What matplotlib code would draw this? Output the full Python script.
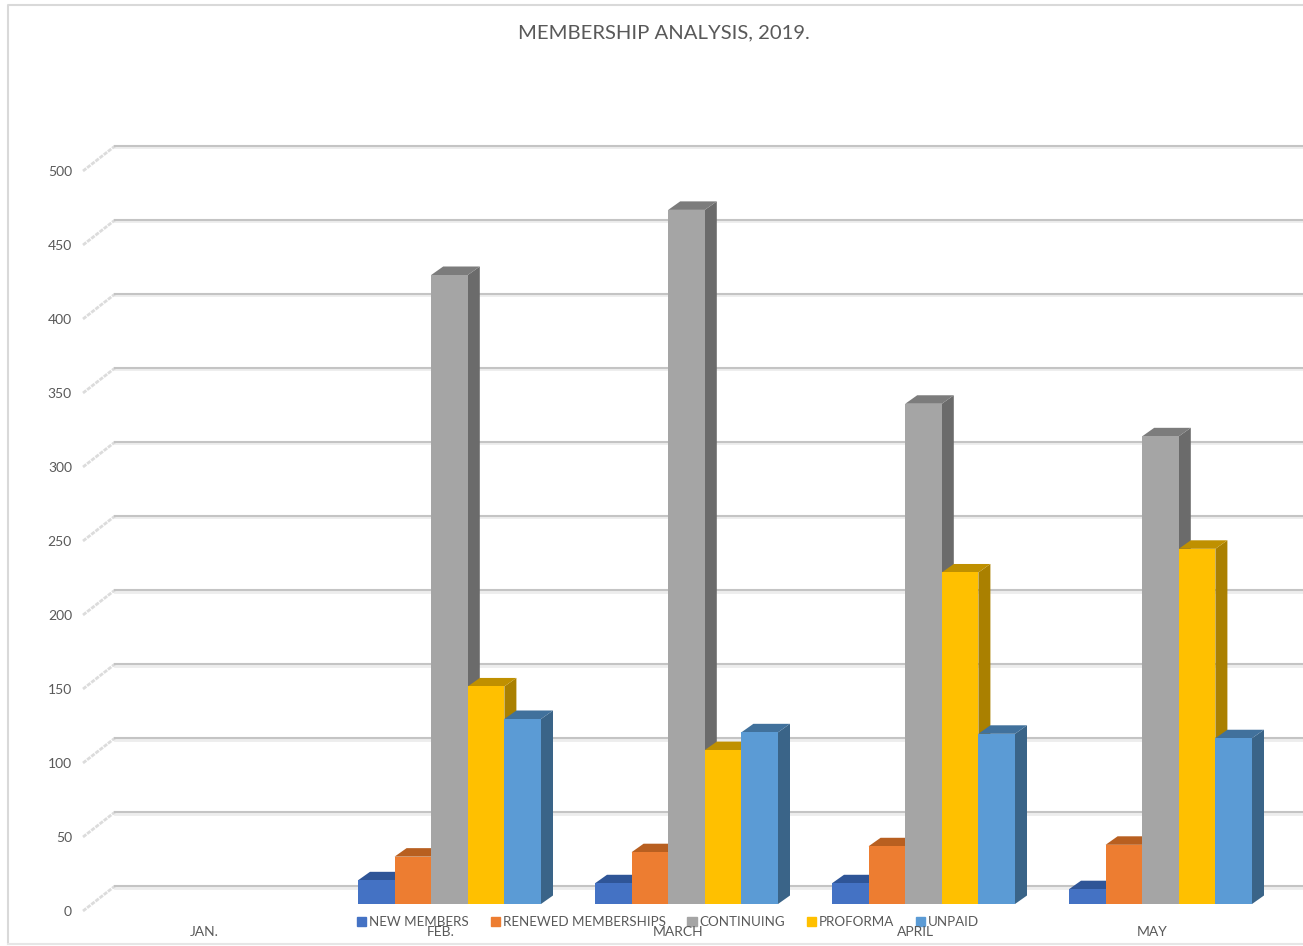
#!/usr/bin/env python

import numpy as np
import matplotlib
matplotlib.use('Agg')
import matplotlib.pyplot as plt
from matplotlib.patches import Patch

plt.rc('font', family=['Lato', 'DejaVu Sans'])

months = ['JAN.', 'FEB.', 'MARCH', 'APRIL', 'MAY']
new_members = [0, 16, 14, 14, 10]
renewed = [0, 32, 35, 39, 40]
continuing = [0, 425, 469, 338, 316]
proforma = [0, 147, 104, 224, 240]
unpaid = [0, 125, 116, 115, 112]
yticks = [0, 50, 100, 150, 200, 250, 300, 350, 400, 450, 500]

names = ['NEW MEMBERS', 'RENEWED MEMBERSHIPS', 'CONTINUING', 'PROFORMA', 'UNPAID']
series = [new_members, renewed, continuing, proforma, unpaid]
front = ['#4472C4', '#ED7D31', '#A5A5A5', '#FFC000', '#5B9BD5']
top = ['#2F5597', '#B85F20', '#7C7C7C', '#BF9000', '#41719C']
side = ['#335593', '#A85A22', '#6B6B6B', '#AA8000', '#3A6488']

# scale of the picture: one category = 237 px, one unit = 1.48 px
PX_X = 237.0
PX_Y = 1.48
X0 = 212.5
Y0 = 904.0

fig = plt.figure(figsize=(13.03, 9.46), dpi=100)
ax = fig.add_axes([0, 0, 1, 1])
ax.set_xlim(-X0 / PX_X, (1303 - X0) / PX_X)
ax.set_ylim((Y0 - 946) / PX_Y, Y0 / PX_Y)
ax.axis('off')


def dx(px):
    return px / PX_X


def dy(px):
    return px / PX_Y


x_left = ax.get_xlim()[0]
x_right = ax.get_xlim()[1]
y_low = ax.get_ylim()[0]
y_high = ax.get_ylim()[1]

# chart border
ax.plot([x_left + dx(8), x_left + dx(8), x_right], [y_low + dy(2), y_high - dy(5.5), y_high - dy(5.5)],
        color='#d9d9d9', lw=1.5, zorder=1)
ax.plot([x_left + dx(8), x_right], [y_low + dy(2), y_low + dy(2)], color='#e6e6e6', lw=1.5, zorder=1)

# back wall grid and the slanted side wall lines
for v in yticks:
    back = v + dy(18)
    ax.plot([x_left + dx(115), x_right], [back - dy(1.5), back - dy(1.5)], color='#ededed', lw=2, zorder=1)
    ax.plot([x_left + dx(115), x_right], [back, back], color='#c4c4c4', lw=1.5, zorder=1.1)
    ax.plot([x_left + dx(83), x_left + dx(115)], [v - dy(7), back], color='#dcdcdc', lw=2,
            linestyle=(0, (1.5, 0.4)), zorder=1)
    ax.text(x_left + dx(72), v - dy(8), str(v), ha='right', va='center', fontsize=10, color='#595959')

width = 36.6 / PX_X
depth_x = dx(12)
depth_y = dy(8.5)

for i in range(len(months)):
    for j in range(len(series)):
        h = series[j][i]
        if h == 0:
            continue
        left = i + (j - 2.5) * width
        right = left + width
        ax.fill([right, right + depth_x, right + depth_x, right],
                [0, depth_y, h + depth_y, h], color=side[j], lw=0, zorder=2 + i + j * 0.1)
        ax.fill([left, left + depth_x, right + depth_x, right],
                [h, h + depth_y, h + depth_y, h], color=top[j], lw=0, zorder=2 + i + j * 0.1)
        ax.bar(left, h, width, align='edge', color=front[j], zorder=2.05 + i + j * 0.1)

for i, m in enumerate(months):
    ax.text(i - dx(8.5), -dy(28), m, ha='center', va='center', fontsize=10, color='#595959', zorder=20)

ax.text(x_left + dx(663.5), y_high - dy(33), 'MEMBERSHIP ANALYSIS, 2019.', ha='center', va='center',
        fontsize=14.6, color='#595959')

handles = [Patch(color=c, label=n) for c, n in zip(front, names)]
ax.legend(handles=handles, ncols=5, loc='center', bbox_to_anchor=(668 / 1303, 1 - 922 / 946),
          frameon=False, fontsize=9.6, labelcolor='#595959', handlelength=0.7, handleheight=0.7,
          handletextpad=0.2, columnspacing=1.63, borderpad=0)

fig.savefig('out.png', dpi=100)
